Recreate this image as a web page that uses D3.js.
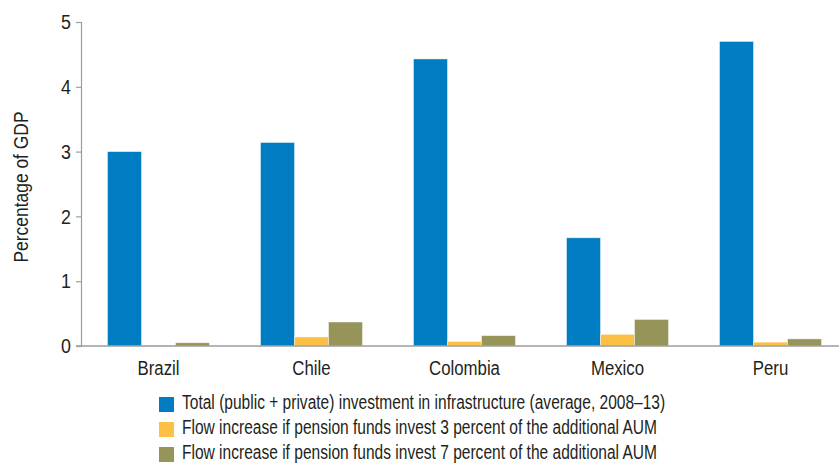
<!DOCTYPE html>
<html><head><meta charset="utf-8">
<script src="https://cdn.jsdelivr.net/npm/d3@7"></script>
<style>
body{margin:0;background:#fff;}
svg text{font-family:"Liberation Sans",Arial,Helvetica,sans-serif;fill:#231f20;}
</style></head>
<body><svg id="c" width="839" height="464"></svg>
<script>
const categories = ["Brazil","Chile","Colombia","Mexico","Peru"];
const seriesNames = [
  "Total (public + private) investment in infrastructure (average, 2008\u201313)",
  "Flow increase if pension funds invest 3 percent of the additional AUM",
  "Flow increase if pension funds invest 7 percent of the additional AUM"
];
const totalInvestment = [3.00, 3.14, 4.43, 1.67, 4.70];
const flow3 = [0.01, 0.14, 0.07, 0.18, 0.06];
const flow7 = [0.05, 0.37, 0.16, 0.41, 0.11];
const yTicks = [0,1,2,3,4,5];
const colors = ["#007cc3","#fbc044","#969458"];

const series = [totalInvestment, flow3, flow7];
const svg = d3.select("#c");
const x0 = d3.scaleBand().domain(categories).range([82,847]).paddingInner(1/3).paddingOuter(1/6);
const x1 = d3.scaleBand().domain([0,1,2]).range([0,x0.bandwidth()]);
const y = d3.scaleLinear().domain([0,5]).range([346,22]);

// horizontally condense text (narrow Helvetica look)
function condense(sel, f){
  sel.each(function(){
    const t = d3.select(this);
    const x = +t.attr("x") || 0;
    const tr = t.attr("transform") || "";
    t.attr("x", x/f).attr("transform", (tr + ` scale(${f},1)`).trim());
  });
}

// bars
categories.forEach((c,i)=>{
  const g = svg.append("g").attr("transform",`translate(${x0(c)},0)`);
  g.selectAll("rect").data(series.map((s,k)=>({k,v:s[i]}))).join("rect")
    .attr("x",d=>x1(d.k)).attr("width",x1.bandwidth())
    .attr("y",d=>y(d.v)).attr("height",d=>y(0)-y(d.v))
    .attr("fill",d=>colors[d.k])
    .attr("stroke","rgba(255,255,255,0.55)").attr("stroke-width",0.8);
});

// y axis
const yAxis = svg.append("g").attr("transform","translate(81,0)")
  .call(d3.axisLeft(y).tickValues(yTicks).tickSize(5).tickPadding(5).tickFormat(d3.format("d")));
yAxis.select(".domain").attr("stroke","#9d9d9d").attr("stroke-width",1.2);
yAxis.selectAll(".tick line").attr("stroke","#9d9d9d").attr("stroke-width",1.2);
yAxis.selectAll(".tick text").style("font-size","21px").attr("fill","#231f20");
condense(yAxis.selectAll(".tick text"), 0.85);

// x axis line
const xAxis = svg.append("g").attr("transform","translate(0,346)")
  .call(d3.axisBottom(x0).tickSize(0).tickPadding(14));
xAxis.select(".domain").attr("d","M76,0H839").attr("stroke","#9d9d9d").attr("stroke-width",1.6);
xAxis.selectAll(".tick text").style("font-size","21px").attr("fill","#231f20");
condense(xAxis.selectAll(".tick text"), 0.8);

// y title
const yt = svg.append("text").attr("transform","translate(28,187) rotate(-90)")
  .attr("text-anchor","middle").style("font-size","21px").text("Percentage of GDP");
condense(yt, 0.83);

// legend
const leg = svg.append("g");
seriesNames.forEach((n,k)=>{
  const base = 409 + k*25;
  leg.append("rect").attr("x",159).attr("y",base-12).attr("width",15).attr("height",15).attr("fill",colors[k]);
  const t = leg.append("text").attr("x",182).attr("y",base).style("font-size","21px").text(n);
  condense(t, 0.74);
});
</script></body></html>
